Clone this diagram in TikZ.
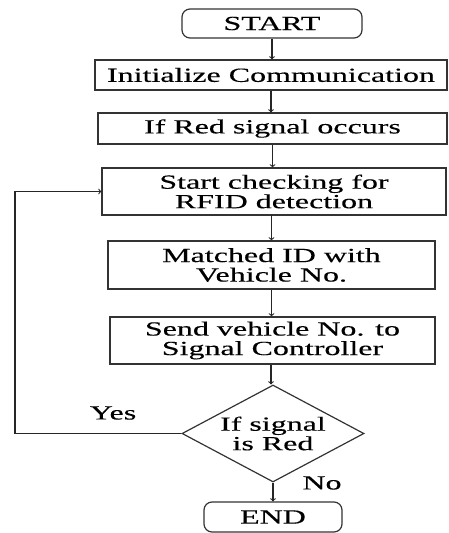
\documentclass[tikz,border=0pt]{standalone}
\usepackage{fontspec}
\setmainfont{Liberation Serif}[FakeStretch=1.6,FakeBold=0.3]
\usetikzlibrary{shapes.geometric}

\tikzset{
  chart/.style={draw=black!80, line width=1.2pt, inner sep=0pt, align=center,
    font=\fontsize{20}{19.5}\selectfont},
  term/.style={chart, rounded corners=8pt},
  procbox/.style={chart},
  decide/.style={chart, diamond, aspect=1.88},
  flow/.style={draw=black!85, line width=1.1pt, ->},
}

\begin{document}
\begin{tikzpicture}[x=1pt,y=-1pt]
\useasboundingbox (0,0) rectangle (448,533);
\node[term, minimum width=180, minimum height=29] (start) at (272,23.5) {START};
\node[procbox, minimum width=352, minimum height=30] (init) at (271,75) {Initialize Communication};
\node[procbox, minimum width=349, minimum height=31] (red) at (272.5,128.5) {If Red signal occurs};
\node[procbox, minimum width=344, minimum height=47] (check) at (274,191.5) {Start checking for\\RFID detection};
\node[procbox, minimum width=327, minimum height=48] (match) at (271.5,265) {Matched ID with\\Vehicle No.};
\node[procbox, minimum width=325, minimum height=47] (send) at (272.5,340.5) {Send vehicle No. to\\Signal Controller};
\node[decide, minimum width=182, minimum height=97] (dec) at (273,433.5) {If signal\\is Red};
\node[term, minimum width=138, minimum height=30] (end) at (273,517) {END};
\coordinate (back) at (15,433.5);
\node[font=\fontsize{20}{19.5}\selectfont] (yes) at (113,413) {Yes};
\node[font=\fontsize{20}{19.5}\selectfont] (no) at (322,483) {No};
\draw[flow] (start) -- (start |- init.north);
\draw[flow] (init) -- (init |- red.north);
\draw[flow] (red) -- (red |- check.north);
\draw[flow] (check) -- (check.south -| match) -- (match.north);
\draw[flow] (match) -- (send.north -| match);
\draw[flow] (send.south -| 271,0) -- (dec.north -| 271,0);
\draw[flow] (dec) -- (end.north);
\draw[flow] (dec.west) -- (back) |- (check.west);
\end{tikzpicture}
\end{document}
